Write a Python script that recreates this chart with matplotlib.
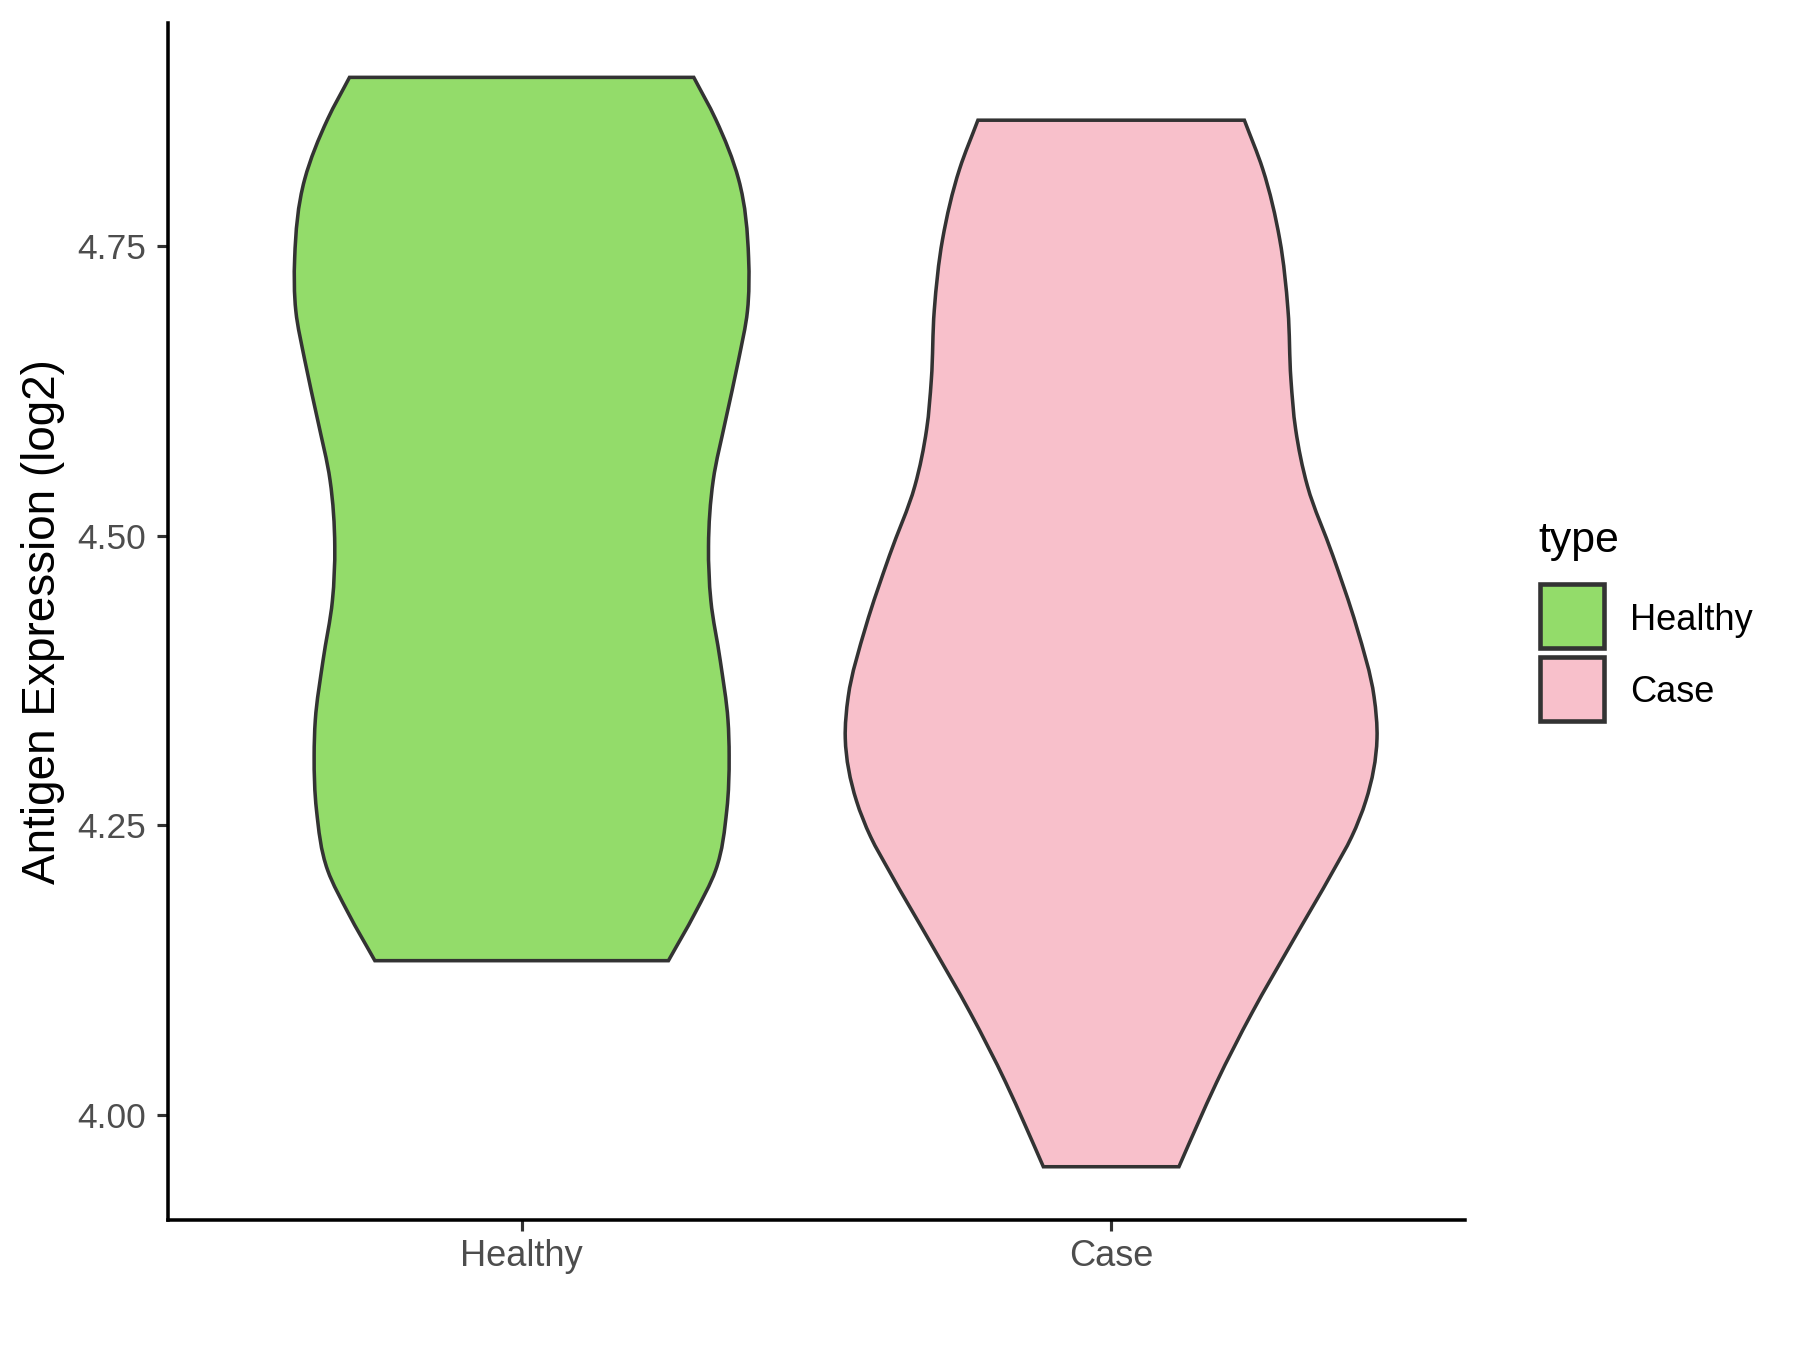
import numpy as np
import matplotlib.pyplot as plt
from matplotlib.path import Path
from matplotlib.patches import PathPatch, Rectangle

plt.rcParams['font.family'] = ['Liberation Sans', 'DejaVu Sans']

categories = ['Healthy', 'Case']
colors = ['#93DC6A', '#F8C0CB']

# violin outlines: y value and half-width (x units)
healthy_y = [4.896, 4.860, 4.808, 4.740, 4.694, 4.652, 4.600, 4.548, 4.491,
             4.444, 4.392, 4.341, 4.310, 4.263, 4.211, 4.174, 4.133]
healthy_w = [0.292, 0.329, 0.368, 0.385, 0.383, 0.368, 0.346, 0.325, 0.317,
             0.321, 0.337, 0.350, 0.352, 0.348, 0.329, 0.294, 0.249]
case_y = [4.859, 4.817, 4.756, 4.695, 4.635, 4.592, 4.543, 4.483, 4.422,
          4.361, 4.325, 4.271, 4.240, 4.210, 4.149, 4.088, 4.028, 3.991, 3.955]
case_w = [0.226, 0.257, 0.286, 0.300, 0.305, 0.313, 0.333, 0.376, 0.416,
          0.446, 0.451, 0.432, 0.408, 0.376, 0.307, 0.239, 0.179, 0.146, 0.115]

yticks = [4.00, 4.25, 4.50, 4.75]


def side_curve(xs, ys):
    # smooth x(y) through the read points (hermite -> bezier)
    xs = np.asarray(xs, float)
    ys = np.asarray(ys, float)
    slope = np.gradient(xs, ys)
    verts, codes = [], []
    for i in range(len(xs) - 1):
        h = ys[i + 1] - ys[i]
        verts.append((xs[i] + slope[i] * h / 3, ys[i] + h / 3))
        verts.append((xs[i + 1] - slope[i + 1] * h / 3, ys[i + 1] - h / 3))
        verts.append((xs[i + 1], ys[i + 1]))
        codes += [Path.CURVE4] * 3
    return verts, codes


def violin_path(center, ys, ws):
    ys = np.array(ys)[::-1]   # bottom -> top
    ws = np.array(ws)[::-1]
    verts = [(center - ws[0], ys[0])]
    codes = [Path.MOVETO]
    v, c = side_curve(center - ws, ys)
    verts += v
    codes += c
    verts.append((center + ws[-1], ys[-1]))
    codes.append(Path.LINETO)
    v, c = side_curve((center + ws)[::-1], ys[::-1])
    verts += v
    codes += c
    verts.append((center - ws[0], ys[0]))
    codes.append(Path.CLOSEPOLY)
    return Path(np.array(verts), codes)


fig = plt.figure(figsize=(12, 9), dpi=150)
ax = fig.add_axes([0.0933, 0.0963, 0.7205, 0.8867])

outlines = [(healthy_y, healthy_w), (case_y, case_w)]
for i, (ys, ws) in enumerate(outlines):
    p = violin_path(i + 1, ys, ws)
    ax.add_patch(PathPatch(p, facecolor=colors[i], edgecolor='#333333',
                           linewidth=1.7, joinstyle='miter'))

ax.set_xlim(0.4, 2.6)
ax.set_ylim(3.909, 4.943)
ax.set_xticks([1, 2])
ax.set_xticklabels(categories)
ax.set_yticks(yticks)
ax.set_yticklabels(['%.2f' % t for t in yticks])
ax.tick_params(axis='x', labelsize=17.4, colors='#333333', labelcolor='#4D4D4D',
               length=5.3, width=1.5, pad=4)
ax.tick_params(axis='y', labelsize=17, colors='#333333', labelcolor='#4D4D4D',
               length=5.3, width=1.5, pad=5)
ax.spines['top'].set_visible(False)
ax.spines['right'].set_visible(False)
for s in ['left', 'bottom']:
    ax.spines[s].set_linewidth(1.7)
    ax.spines[s].set_color('black')
ax.set_ylabel('Antigen Expression (log2)', fontsize=22, color='black')
ax.yaxis.set_label_coords(-0.0794, 0.5)

# legend
fig.text(1538 / 1800, 1 - 541 / 1350, 'type', fontsize=20.5, va='center', ha='left')
for i, lab in enumerate(categories):
    top = 584 + i * 73
    fig.patches.append(Rectangle((1540 / 1800, 1 - (top + 64) / 1350), 64 / 1800, 64 / 1350,
                                 transform=fig.transFigure, facecolor=colors[i],
                                 edgecolor='#333333', linewidth=2.2))
    fig.text(1630 / 1800, 1 - (top + 36) / 1350, lab, fontsize=17.4, va='center', ha='left')

fig.savefig('out.png', dpi=150)
